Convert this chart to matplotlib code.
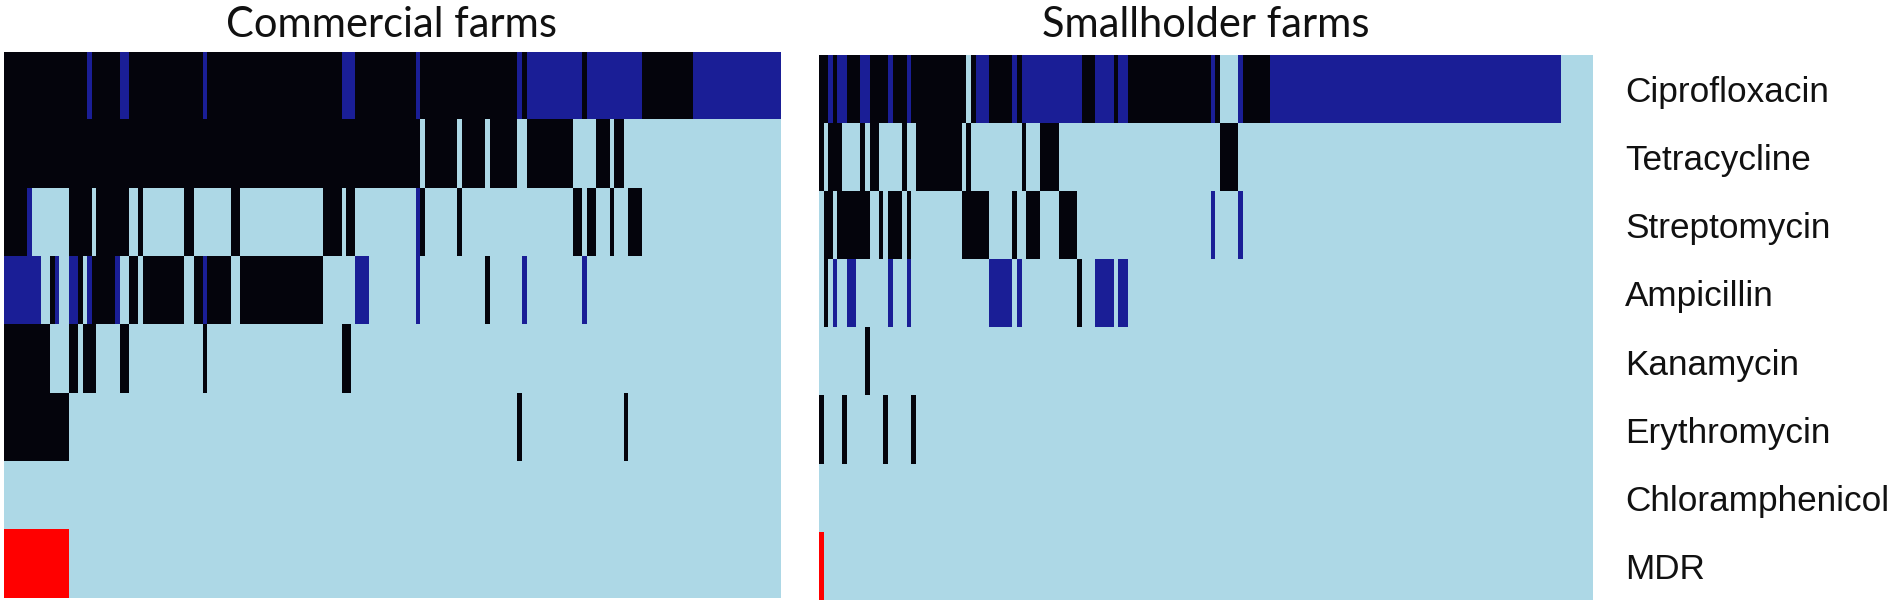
import numpy as np
import matplotlib
matplotlib.use("Agg")
import matplotlib.pyplot as plt
from matplotlib.colors import ListedColormap, BoundaryNorm

# ---------------- data (run-length per antibiotic, isolates left->right) ----------------
# S = susceptible, I = intermediate, R = resistant, M = multidrug resistant
antibiotics = ["Ciprofloxacin", "Tetracycline", "Streptomycin", "Ampicillin",
               "Kanamycin", "Erythromycin", "Chloramphenicol", "MDR"]
panel_titles = ["Commercial farms", "Smallholder farms"]

commercial_cip = [("R",18),("I",1),("R",6),("I",2),("R",16),("I",1),("R",29),("I",3),("R",13),("I",1),
                  ("R",21),("I",1),("R",1),("I",12),("R",1),("I",12),("R",11),("I",19)]
commercial_tet = [("R",90),("S",1),("R",7),("S",1),("R",5),("S",1),("R",6),("S",2),("R",10),("S",5),
                  ("R",3),("S",1),("R",2),("S",34)]
commercial_str = [("R",5),("I",1),("S",8),("R",5),("S",1),("R",7),("S",2),("R",1),("S",9),("R",2),
                  ("S",8),("R",2),("S",18),("R",4),("S",1),("R",2),("S",13),("I",1),("R",1),("S",7),
                  ("R",1),("S",24),("R",2),("S",1),("R",2),("S",3),("R",1),("S",3),("R",3),("S",30)]
commercial_amp = [("I",8),("S",2),("R",1),("I",1),("S",2),("I",2),("R",1),("S",1),("I",1),("R",5),
                  ("I",1),("S",2),("R",2),("S",1),("R",9),("S",2),("R",2),("I",1),("R",5),("S",2),
                  ("R",18),("S",7),("I",3),("S",10),("I",1),("S",14),("R",1),("S",7),("I",1),("S",12),
                  ("I",1),("S",42)]
commercial_kan = [("R",10),("S",4),("R",2),("S",1),("R",3),("S",5),("R",2),("S",16),("R",1),("S",29),
                  ("R",2),("S",93)]
commercial_ery = [("R",14),("S",97),("R",1),("S",22),("R",1),("S",33)]
commercial_chl = [("S",168)]
commercial_mdr = [("M",14),("S",154)]

smallholder_cip = [("R",2),("I",1),("R",1),("I",2),("R",3),("I",2),("R",4),("I",1),("R",3),("I",1),
                   ("R",12),("S",1),("R",1),("I",3),("R",5),("I",1),("R",1),("I",13),("R",3),("I",4),
                   ("R",1),("I",2),("R",18),("I",1),("R",1),("S",4),("I",1),("R",6),("I",63),("S",7)]
smallholder_tet = [("R",1),("S",1),("R",3),("S",4),("R",1),("S",1),("R",2),("S",5),("R",1),("S",2),
                   ("R",10),("S",1),("R",1),("S",11),("R",1),("S",3),("R",4),("S",35),("R",4),("S",77)]
smallholder_str = [("S",1),("R",2),("S",1),("R",7),("S",2),("R",1),("S",1),("R",3),("S",1),("R",1),
                   ("S",11),("R",6),("S",5),("R",1),("S",2),("R",3),("S",4),("R",4),("S",29),("I",1),
                   ("S",5),("I",1),("S",76)]
smallholder_amp = [("S",1),("R",1),("S",1),("I",1),("S",2),("I",2),("S",7),("I",1),("S",3),("I",1),
                   ("S",17),("I",5),("S",1),("I",1),("S",12),("R",1),("S",3),("I",4),("S",1),("I",2),
                   ("S",101)]
smallholder_kan = [("S",10),("R",1),("S",157)]
smallholder_ery = [("R",1),("S",4),("R",1),("S",8),("R",1),("S",5),("R",1),("S",147)]
smallholder_chl = [("S",168)]
smallholder_mdr = [("M",1),("S",167)]

commercial_rows = [commercial_cip, commercial_tet, commercial_str, commercial_amp,
                   commercial_kan, commercial_ery, commercial_chl, commercial_mdr]
smallholder_rows = [smallholder_cip, smallholder_tet, smallholder_str, smallholder_amp,
                    smallholder_kan, smallholder_ery, smallholder_chl, smallholder_mdr]

# ---------------- build matrices ----------------
code = {"S": 0, "I": 1, "R": 2, "M": 3}

def expand(rows):
    return np.array([[code[v] for v, n in row for _ in range(n)] for row in rows])

mat_c = expand(commercial_rows)
mat_s = expand(smallholder_rows)

cmap = ListedColormap(["#add8e6", "#1a1e96", "#04040c", "#ff0000"])
norm = BoundaryNorm([-0.5, 0.5, 1.5, 2.5, 3.5], cmap.N)

W, H = 1902, 607
fig = plt.figure(figsize=(W / 100, H / 100), dpi=100)

def axes_px(x0, x1, y0, y1):
    return fig.add_axes([x0 / W, 1 - y1 / H, (x1 - x0) / W, (y1 - y0) / H])

ax_c = axes_px(3.5, 780, 51.5, 598.5)
ax_s = axes_px(818.5, 1592, 55, 600)

for ax, mat, title, pad in [(ax_c, mat_c, panel_titles[0], 10.5),
                            (ax_s, mat_s, panel_titles[1], 13.0)]:
    ax.imshow(mat, cmap=cmap, norm=norm, aspect="auto", interpolation="nearest")
    for sp in ax.spines.values():
        sp.set_visible(False)
    ax.set_xticks([])
    ax.set_yticks([])
    ax.set_title(title, fontsize=30, family="Lato", pad=pad, color="#111111")

ax_s.set_yticks(range(len(antibiotics)))
ax_s.set_yticklabels(antibiotics, fontsize=25.3, family="Liberation Sans", color="#111111")
ax_s.yaxis.tick_right()
ax_s.tick_params(axis="y", length=0, pad=24)

fig.savefig("out.png", dpi=100, facecolor="white")
